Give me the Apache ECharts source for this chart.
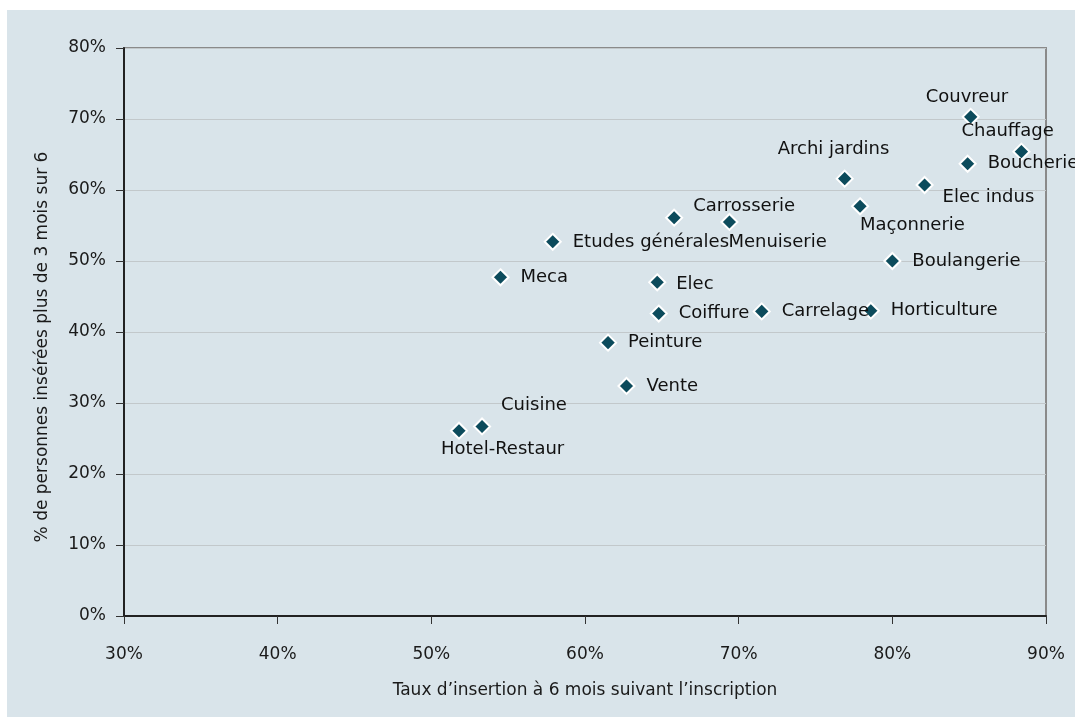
<!DOCTYPE html>
<html>
<head>
<meta charset="utf-8">
<script src="https://cdn.jsdelivr.net/npm/echarts@6/dist/echarts.min.js"></script>
<style>
  html, body { margin: 0; padding: 0; background: #ffffff; }
  #bg { position: absolute; left: 7px; top: 10px; width: 1068px; height: 707px; background: #d9e4ea; }
  #chart { position: absolute; left: 0; top: 0; width: 1075px; height: 722px; }
</style>
</head>
<body>
<div id="bg"></div>
<div id="chart"></div>
<script>
// Data (percent values)
const metiers = ["Couvreur", "Chauffage", "Boucherie", "Archi jardins", "Elec indus", "Maçonnerie",
  "Menuiserie", "Carrosserie", "Boulangerie", "Horticulture", "Carrelage", "Etudes générales",
  "Meca", "Elec", "Coiffure", "Peinture", "Vente", "Cuisine", "Hotel-Restaur"];
const tauxInsertion = [85.1, 88.4, 84.9, 76.9, 82.1, 77.9,
  69.4, 65.8, 80.0, 78.6, 71.5, 57.9,
  54.5, 64.7, 64.8, 61.5, 62.7, 53.3, 51.8];
const personnesInserees = [70.3, 65.4, 63.7, 61.6, 60.7, 57.7,
  55.5, 56.1, 50.0, 43.0, 42.9, 52.7,
  47.7, 47.0, 42.6, 38.5, 32.4, 26.7, 26.1];
const xTicks = [30, 40, 50, 60, 70, 80, 90];
const yTicks = [0, 10, 20, 30, 40, 50, 60, 70, 80];

// Label placement (layout only): offset of text start from the marker centre
const labelOffsets = {
  "Couvreur": [-45, -20],
  "Chauffage": [-60, -20],
  "Archi jardins": [-67, -29],
  "Elec indus": [18, 12],
  "Maçonnerie": [0, 19],
  "Menuiserie": [-1, 20],
  "Carrosserie": [19, -11],
  "Cuisine": [19, -21],
  "Hotel-Restaur": [-18, 19],
  "Elec": [19, 2]
};

const FONT = "DejaVu Sans";
const points = metiers.map((name, i) => {
  const item = { name: name, value: [tauxInsertion[i], personnesInserees[i]] };
  const off = labelOffsets[name];
  if (off) {
    item.label = { position: 'inside', align: 'left', verticalAlign: 'middle', offset: off };
  }
  return item;
});

const chart = echarts.init(document.getElementById('chart'), null, { renderer: 'canvas' });
chart.setOption({
  animation: false,
  backgroundColor: 'transparent',
  textStyle: { fontFamily: FONT },
  grid: {
    left: 124, top: 48, right: 29, bottom: 106,
    show: true, borderColor: '#8a8a8a', borderWidth: 2, backgroundColor: 'transparent'
  },
  xAxis: {
    type: 'value',
    min: xTicks[0], max: xTicks[xTicks.length - 1], interval: 10,
    name: "Taux d\u2019insertion à 6 mois suivant l\u2019inscription",
    nameLocation: 'middle', nameGap: 66,
    nameTextStyle: { fontFamily: FONT, fontSize: 17, color: '#1a1a1a' },
    axisLine: { show: true, onZero: false, lineStyle: { color: '#222', width: 2 } },
    axisTick: { show: true, inside: false, length: 8, lineStyle: { color: '#333', width: 1 } },
    axisLabel: { formatter: '{value}%', fontFamily: FONT, fontSize: 17, color: '#1a1a1a', margin: 30 },
    splitLine: { show: false }
  },
  yAxis: {
    type: 'value',
    min: yTicks[0], max: yTicks[yTicks.length - 1], interval: 10,
    name: "% de personnes insérées plus de 3 mois sur 6",
    nameLocation: 'middle', nameGap: 73,
    nameTextStyle: { fontFamily: FONT, fontSize: 17, color: '#1a1a1a', padding: [0, 30, 0, 0] },
    axisLine: { show: true, onZero: false, lineStyle: { color: '#222', width: 2 } },
    axisTick: { show: true, inside: false, length: 8, lineStyle: { color: '#333', width: 1 } },
    axisLabel: { formatter: '{value}%', fontFamily: FONT, fontSize: 17, color: '#1a1a1a', margin: 18 },
    splitLine: { show: true, lineStyle: { color: '#c2c8cb', width: 1 } }
  },
  series: [{
    type: 'scatter',
    symbol: 'diamond',
    symbolSize: 16,
    itemStyle: { color: '#0c4b5c', borderColor: '#ffffff', borderWidth: 2, opacity: 1 },
    label: {
      show: true,
      formatter: '{b}',
      position: 'right',
      distance: 11,
      fontFamily: FONT,
      fontSize: 18,
      color: '#111111',
      opacity: 1
    },
    data: points
  }]
});
</script>
</body>
</html>
